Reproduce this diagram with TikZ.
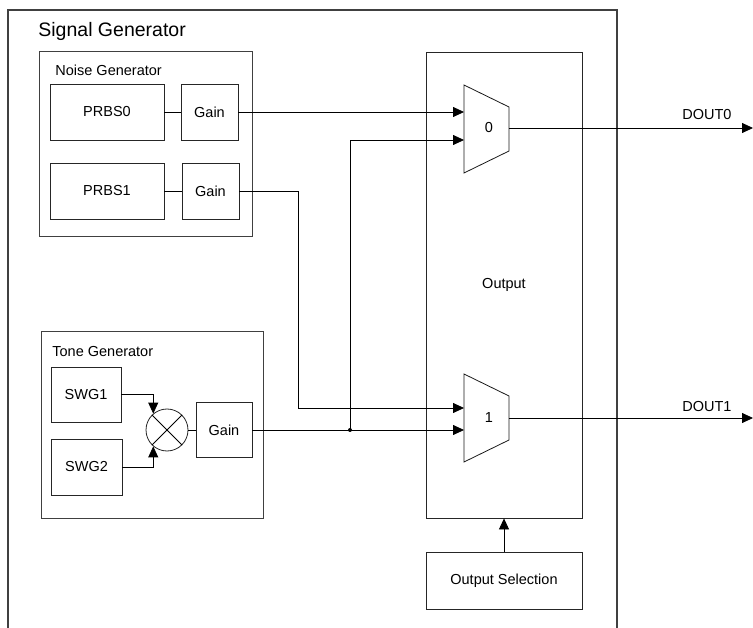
\documentclass[tikz,border=0pt]{standalone}
\usepackage{fontspec}
\setmainfont{Liberation Sans}
\usetikzlibrary{arrows.meta}
\begin{document}
\begin{tikzpicture}[x=1pt,y=-1pt, line width=0.8pt,
  txt/.style={font=\fontsize{14.5}{17}\selectfont},
  box/.style={draw=black!85, rectangle, inner sep=0pt, txt},
  grp/.style={draw=black!75, line width=1pt},
  lbl/.style={txt, inner sep=0pt, anchor=base west},
  arr/.style={-{Triangle[length=11pt,width=10pt]}},
]
\useasboundingbox (0,0) rectangle (753,628);

% outer signal generator frame (open at bottom)
\draw[grp, line width=1.2pt] (8,628) -- (8,10) -- (617,10) -- (617,628);
\node[inner sep=0pt, anchor=base west, font=\fontsize{19.5}{22}\selectfont] (tsg) at (38,37) {Signal Generator};

% noise generator
\draw[grp] (39,52) rectangle (252,237);
\node[lbl] (tng) at (55,76) {Noise Generator};
\node[box, minimum width=114pt, minimum height=56pt] (prbs0) at (107,112) {PRBS0};
\node[box, minimum width=57pt, minimum height=56pt] (gain0) at (209.5,112) {Gain};
\node[box, minimum width=114pt, minimum height=56pt] (prbs1) at (107,191) {PRBS1};
\node[box, minimum width=57pt, minimum height=56pt] (gain1) at (210.5,191) {Gain};
\draw (prbs0) -- (gain0);
\draw (prbs1) -- (gain1);

% tone generator
\draw[grp] (41,332) rectangle (263,518);
\node[lbl] (ttg) at (52,357) {Tone Generator};
\node[box, minimum width=70pt, minimum height=55pt] (swg1) at (86,394.5) {SWG1};
\node[box, minimum width=71pt, minimum height=56pt] (swg2) at (86.5,467) {SWG2};
\node[draw=black!85, circle, minimum size=42pt, inner sep=0pt] (mix) at (167,430) {};
\draw (mix.45) -- (mix.225) (mix.135) -- (mix.315);
\node[box, minimum width=56pt, minimum height=55pt] (gain2) at (224,430) {Gain};
\draw[arr] (swg1.east) -| (mix.130);
\draw[arr] (swg2.east) -| (mix.230);
\draw (mix.east) -- (gain2.west);

% output block
\node[box, minimum width=156pt, minimum height=466pt] (out) at (504,285) {Output};
\node[box, minimum width=156pt, minimum height=57pt] (osel) at (504,580.5) {Output Selection};
\draw[arr] (osel.north) -- (out.south);

% multiplexers
\draw[draw=black!90] (464,85) -- (509,107) -- (509,151) -- (464,173) -- cycle;
\node[txt] (mux0) at (489,128) {0};
\draw[draw=black!90] (464,374) -- (509,396) -- (509,440) -- (464,462) -- cycle;
\node[txt] (mux1) at (489,418) {1};

\coordinate (m0a) at (464,112);
\coordinate (m0b) at (464,140);
\coordinate (m1a) at (464,408);
\coordinate (m1b) at (464,430);
\coordinate (m0o) at (509,128);
\coordinate (m1o) at (509,418);
\coordinate (d0) at (753,128);
\coordinate (d1) at (753,418);
\coordinate (j) at (350,430);

\draw[arr] (gain0.east) -- (m0a);
\draw[arr] (gain1.east) -- (298,191) -- (298,408) -- (m1a);
\draw[arr] (gain2.east) -- (m1b);
\draw[arr] (j) -- (350,140) -- (m0b);
\fill (j) circle (2pt);

\draw[arr] (m0o) -- (d0);
\draw[arr] (m1o) -- (d1);
\node[lbl] (tdout0) at (682,120) {DOUT0};
\node[lbl] (tdout1) at (682,412) {DOUT1};
\end{tikzpicture}
\end{document}
